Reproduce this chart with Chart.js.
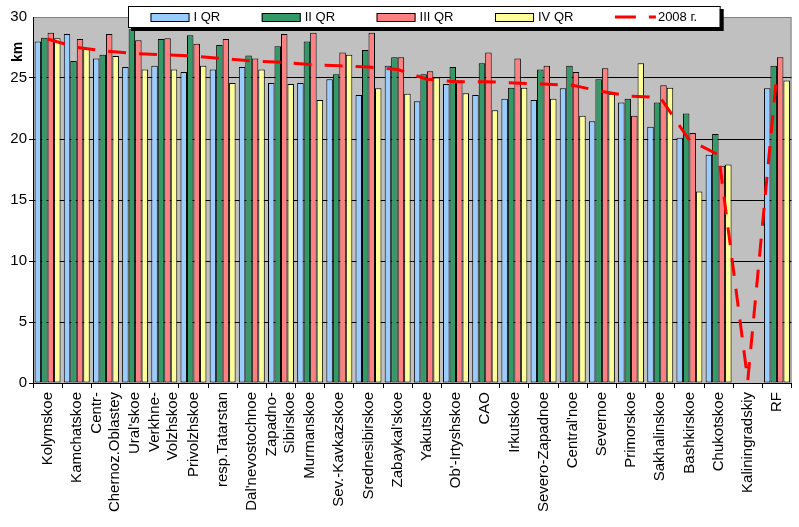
<!DOCTYPE html>
<html>
<head>
<meta charset="utf-8">
<script src="https://cdn.jsdelivr.net/npm/chart.js@4/dist/chart.umd.min.js"></script>
<style>
  body { margin: 0; background: #fff; }
</style>
</head>
<body>
<canvas id="chart" width="799" height="527"></canvas>
<script>
const regions = [
  "Kolymskoe", "Kamchatskoe", ["Centr-", "Chernoz.Oblastey"], "Ural'skoe",
  ["Verkhne-", "Volzhskoe"], "Privolzhskoe", "resp.Tatarstan", "Dal'nevostochnoe",
  ["Zapadno-", "Sibirskoe"], "Murmanskoe", "Sev.-Kavkazskoe", "Srednesibirskoe",
  "Zabaykal'skoe", "Yakutskoe", "Ob'-Irtyshskoe", "CAO", "Irkutskoe",
  "Severo-Zapadnoe", "Central'noe", "Severnoe", "Primorskoe", "Sakhalinskoe",
  "Bashkirskoe", "Chukotskoe", "Kaliningradskiy", "RF"
];

const q1 = [28.0, 28.6, 26.6, 25.9, 26.0, 25.5, 25.7, 25.9, 24.6, 24.6, 24.9, 23.6, 26.0,
            23.1, 24.5, 23.6, 23.3, 23.2, 24.15, 21.45, 23.0, 21.0, 20.1, 18.7, null, 24.15];
const q2 = [28.3, 26.4, 26.9, 29.0, 28.2, 28.5, 27.7, 26.85, 27.6, 28.0, 25.3, 27.3, 26.7,
            25.3, 25.9, 26.2, 24.2, 25.7, 26.0, 24.9, 23.3, 23.0, 22.1, 20.4, null, 26.0];
const q3 = [28.7, 28.2, 28.6, 28.1, 28.25, 27.8, 28.2, 26.6, 28.6, 28.7, 27.1, 28.7, 26.7,
            25.55, 24.8, 27.1, 26.6, 26.0, 25.5, 25.8, 21.9, 24.4, 20.5, 17.8, null, 26.7];
const q4 = [28.25, 27.4, 26.8, 25.7, 25.7, 26.0, 24.6, 25.7, 24.5, 23.2, 26.9, 24.15, 23.7,
            25.05, 23.75, 22.35, 24.2, 23.3, 21.9, 23.7, 26.2, 24.2, 15.7, 17.9, null, 24.8];
const y2008 = [28.2, 27.5, 27.2, 27.0, 26.9, 26.8, 26.6, 26.4, 26.3, 26.1, 26.0, 25.9, 25.7,
               24.9, 24.7, 24.7, 24.6, 24.5, 24.4, 23.9, 23.5, 23.4, 19.9, 18.7, 0.2, 25.5];

const seriesNames = ["I QR", "II QR", "III QR", "IV QR", "2008 г."];
const yTicks = [0, 5, 10, 15, 20, 25, 30];

const FONT = '"Liberation Sans", Arial, sans-serif';
Chart.defaults.font.family = FONT;
Chart.defaults.color = "#000";

function barSet(label, data, color) {
  return {
    type: "bar",
    label: label,
    data: data,
    backgroundColor: color,
    borderColor: "#000",
    borderWidth: 1,
    borderSkipped: false,
    categoryPercentage: 0.89,
    barPercentage: 1.0,
    order: 1
  };
}

// plot area background and frame
const plotBg = {
  id: "plotBg",
  beforeDraw(chart) {
    const a = chart.chartArea;
    const ctx = chart.ctx;
    ctx.save();
    ctx.fillStyle = "#c0c0c0";
    ctx.fillRect(a.left, a.top, a.right - a.left, a.bottom - a.top);
    ctx.strokeStyle = "#808080";
    ctx.lineWidth = 1;
    ctx.strokeRect(a.left + 0.5, a.top + 0.5, a.right - a.left - 1, a.bottom - a.top);
    ctx.restore();

    // centre two-line category labels on their tick
    const items = chart.scales.x.getLabelItems();
    items.forEach(it => {
      if (Array.isArray(it.label) && it.label.length > 1) {
        it.textOffset -= (it.label.length - 1) * it.font.lineHeight / 2;
      }
    });
  }
};

// legend box with shadow, plus the "km" unit label
const legendBox = {
  id: "legendBox",
  afterDraw(chart) {
    const ctx = chart.ctx;
    ctx.save();

    ctx.font = "bold 14px " + FONT;
    ctx.translate(18, 52);
    ctx.rotate(-Math.PI / 2);
    ctx.textAlign = "center";
    ctx.textBaseline = "middle";
    ctx.fillStyle = "#000";
    ctx.fillText("km", 0, 0);
    ctx.setTransform(1, 0, 0, 1, 0, 0);

    ctx.font = "13px " + FONT;
    const sw = 39, gap = 4, space = 41.5, padX = 22.5;
    const sets = chart.data.datasets;
    const widths = sets.map(ds => ctx.measureText(ds.label).width);
    let total = padX * 2 + space * (sets.length - 1);
    widths.forEach(w => { total += sw + gap + w; });
    const left = 128, top = 6, h = 21;
    const cy = top + h / 2 + 0.5;

    ctx.fillStyle = "#000";
    ctx.fillRect(left + 3, top + 3, total + 1, h + 1);
    ctx.fillStyle = "#fff";
    ctx.fillRect(left, top, total, h);
    ctx.strokeStyle = "#000";
    ctx.lineWidth = 1;
    ctx.strokeRect(left + 0.5, top + 0.5, total, h);

    let x = left + padX;
    sets.forEach((ds, i) => {
      if (ds.type === "line") {
        ctx.strokeStyle = ds.borderColor;
        ctx.lineWidth = ds.borderWidth;
        ctx.setLineDash([21, 13]);
        ctx.beginPath();
        ctx.moveTo(x, cy);
        ctx.lineTo(x + sw + 2, cy);
        ctx.stroke();
        ctx.setLineDash([]);
      } else {
        ctx.fillStyle = ds.backgroundColor;
        ctx.fillRect(x, cy - 4, sw, 8);
        ctx.strokeStyle = "#000";
        ctx.lineWidth = 1;
        ctx.strokeRect(x + 0.5, cy - 4 + 0.5, sw - 1, 8);
      }
      ctx.fillStyle = "#000";
      ctx.textAlign = "left";
      ctx.textBaseline = "middle";
      ctx.fillText(ds.label, x + sw + gap, cy);
      x += sw + gap + widths[i] + space;
    });
    ctx.restore();
  }
};

new Chart(document.getElementById("chart"), {
  data: {
    labels: regions,
    datasets: [
      barSet(seriesNames[0], q1, "#99ccff"),
      barSet(seriesNames[1], q2, "#339966"),
      barSet(seriesNames[2], q3, "#ff8080"),
      barSet(seriesNames[3], q4, "#ffff99"),
      {
        type: "line",
        label: seriesNames[4],
        data: y2008,
        borderColor: "#ff0000",
        borderWidth: 3,
        borderDash: [18, 13],
        pointRadius: 0,
        fill: false,
        tension: 0,
        order: 0
      }
    ]
  },
  options: {
    responsive: false,
    animation: false,
    layout: { padding: { top: 17, right: 3, left: 0, bottom: 0 } },
    plugins: {
      legend: { display: false },
      tooltip: { enabled: false }
    },
    scales: {
      x: {
        offset: true,
        grid: {
          offset: true,
          drawOnChartArea: false,
          drawTicks: true,
          tickLength: 5,
          color: "#000"
        },
        border: { color: "#000", width: 1 },
        ticks: {
          autoSkip: false,
          minRotation: 90,
          maxRotation: 90,
          padding: 4,
          font: { size: 15, lineHeight: 1.2 }
        },
        afterFit(scale) { scale.height = 144; }
      },
      y: {
        min: 0,
        max: 30,
        afterBuildTicks(scale) { scale.ticks = yTicks.map(v => ({ value: v })); },
        grid: {
          color: ctx => ctx.tick && ctx.tick.value === 30 ? "rgba(0,0,0,0)" : "#000",
          tickLength: 4
        },
        border: { color: "#000", width: 1 },
        ticks: {
          padding: 2,
          font: { size: 15 }
        },
        afterFit(scale) { scale.width = 33; }
      }
    }
  },
  plugins: [plotBg, legendBox]
});
</script>
</body>
</html>
